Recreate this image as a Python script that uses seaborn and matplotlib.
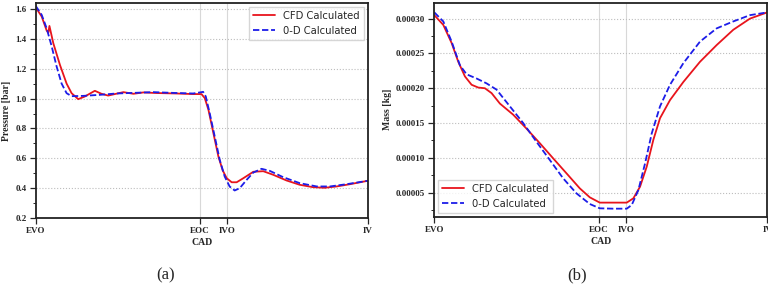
import numpy as np
import pandas as pd
import matplotlib
matplotlib.use("Agg")
import matplotlib.pyplot as plt
from matplotlib.ticker import MultipleLocator
import seaborn as sns

# crank angle positions (percent of EVO -> IV span)
tick_pos = [0, 49.5, 57.6, 100]
tick_lab = ["EVO", "EOC", "IVO", "IV"]

# pressure [bar], CFD
p_cfd_x = [0, 1.8, 3.3, 3.8, 4.13, 5.3, 7.3, 9.3, 10.8, 12.8, 14.8, 17.8, 19.8, 21.8, 23.8,
           26.4, 29.4, 32.4, 36.4, 42.4, 47.4, 49.9, 50.9, 52.0, 53.5, 55.0, 56.3, 57.5,
           59.0, 60.5, 62.5, 65.5, 68.5, 71.5, 75.5, 79.5, 83.5, 87.0, 90.6, 94.6, 100]
p_cfd_y = [1.61, 1.549, 1.455, 1.44, 1.486, 1.37, 1.225, 1.10, 1.036, 0.996, 1.014, 1.052,
           1.032, 1.02, 1.03, 1.043, 1.032, 1.041, 1.037, 1.034, 1.03, 1.03, 1.003, 0.925,
           0.768, 0.612, 0.519, 0.467, 0.44, 0.44, 0.467, 0.51, 0.514, 0.49, 0.452, 0.423,
           0.407, 0.403, 0.412, 0.427, 0.45]
# pressure [bar], 0-D
p_0d_x = [0, 1.8, 3.3, 4.8, 6.3, 7.8, 9.3, 10.8, 14.3, 19.3, 24.3, 29.4, 35.4, 41.4, 47.4,
          49.4, 50.4, 51.2, 52.4, 53.9, 55.4, 56.9, 58.4, 59.9, 61.4, 63.5, 65.5, 68.0,
          70.5, 74.5, 79.5, 84.6, 88.6, 93.6, 100]
p_0d_y = [1.62, 1.56, 1.47, 1.35, 1.214, 1.10, 1.036, 1.016, 1.018, 1.025, 1.034, 1.038,
          1.043, 1.038, 1.034, 1.041, 1.045, 1.014, 0.90, 0.746, 0.59, 0.478, 0.411, 0.385,
          0.40, 0.456, 0.505, 0.53, 0.516, 0.474, 0.434, 0.412, 0.412, 0.427, 0.45]

# mass [kg], CFD
m_cfd_x = [0, 2.7, 5.2, 7.2, 9.2, 11.2, 13.2, 15.2, 17.2, 19.7, 23.7, 27.7, 31.7, 35.7,
           39.7, 43.7, 46.7, 49.7, 53.7, 57.8, 59.8, 61.8, 63.8, 65.8, 67.8, 70.8, 74.8,
           79.8, 84.8, 89.8, 94.8, 100]
m_cfd_y = [0.000305, 0.000291, 0.000265, 0.000238, 0.000217, 0.000205, 0.000201, 0.0002,
           0.000193, 0.000178, 0.000162, 0.000142, 0.000121, 0.0000993, 0.0000778,
           0.0000562, 0.0000433, 0.0000357, 0.0000357, 0.0000357, 0.0000419, 0.0000586,
           0.0000873, 0.000126, 0.000157, 0.000183, 0.000209, 0.000238, 0.000262,
           0.000284, 0.0003, 0.000309]
# mass [kg], 0-D
m_0d_x = [0, 2.7, 5.2, 7.7, 9.7, 12.7, 15.7, 18.7, 22.7, 26.7, 30.7, 34.7, 38.7, 42.7,
          46.7, 49.7, 53.7, 57.8, 59.3, 61.3, 63.3, 65.3, 67.8, 70.8, 74.8, 79.8, 84.8,
          89.8, 94.8, 100]
m_0d_y = [0.000309, 0.000296, 0.000267, 0.000233, 0.00022, 0.000214, 0.000207, 0.000198,
          0.000174, 0.00015, 0.000123, 0.0000969, 0.0000706, 0.000049, 0.0000337,
          0.0000275, 0.000027, 0.000027, 0.0000323, 0.0000538, 0.000092, 0.000135,
          0.000174, 0.000205, 0.000236, 0.000267, 0.000286, 0.000296, 0.000305, 0.000309]

sns.set_style("white")
plt.rcParams["font.family"] = ["Liberation Serif", "DejaVu Serif"]

red = "#e8141c"
blue = "#1c1ce8"

fig = plt.figure(figsize=(7.68, 2.92), dpi=100)
ax1 = fig.add_axes([0.0465, 0.253, 0.4325, 0.737])
ax2 = fig.add_axes([0.5655, 0.257, 0.4335, 0.734])


def draw(ax, xc, yc, xd, yd):
    sns.lineplot(x=xc, y=yc, ax=ax, color=red, lw=1.3, label="CFD Calculated",
                 sort=False, estimator=None)
    sns.lineplot(x=xd, y=yd, ax=ax, color=blue, lw=1.3, label="0-D Calculated",
                 sort=False, estimator=None, linestyle=(0, (3.5, 1.5)))
    ax.set_xlim(0, 100)
    ax.set_xticks(tick_pos)
    ax.set_xticklabels(tick_lab, fontsize=6.5, fontweight="bold")
    for t in tick_pos[1:3]:
        ax.axvline(t, color="#d8d8d8", lw=0.8, zorder=0)
    ax.yaxis.grid(True, color="#bdbdbd", ls=":", lw=0.8)
    ax.set_xlabel("CAD", fontsize=7, fontweight="bold", labelpad=2)
    for s in ax.spines.values():
        s.set_linewidth(1.3)
        s.set_color("#222222")
    ax.tick_params(axis="both", which="major", direction="out", length=4.5, width=0.9,
                   bottom=True, left=True, pad=2, labelsize=6.5)
    ax.tick_params(axis="y", which="minor", direction="out", length=2.5, width=0.7,
                   left=True)
    for lab in ax.get_yticklabels():
        lab.set_fontweight("bold")


draw(ax1, p_cfd_x, p_cfd_y, p_0d_x, p_0d_y)
ax1.set_ylim(0.2, 1.64)
ax1.yaxis.set_major_locator(MultipleLocator(0.2))
ax1.yaxis.set_minor_locator(MultipleLocator(0.1))
ax1.set_yticks([0.2, 0.4, 0.6, 0.8, 1.0, 1.2, 1.4, 1.6])
ax1.set_yticklabels(["0.2", "0.4", "0.6", "0.8", "1.0", "1.2", "1.4", "1.6"],
                    fontsize=6.5, fontweight="bold")
ax1.set_ylabel("Pressure [bar]", fontsize=7, fontweight="bold", labelpad=3)
ax1.legend(loc="upper right", prop={"family": "DejaVu Sans", "size": 7.2},
           frameon=True, fancybox=False, edgecolor="#cccccc", borderaxespad=0.4,
           handlelength=2.2)

draw(ax2, m_cfd_x, m_cfd_y, m_0d_x, m_0d_y)
ax2.set_ylim(0.0000151, 0.000323)
ax2.set_yticks([0.00005, 0.0001, 0.00015, 0.0002, 0.00025, 0.0003])
ax2.yaxis.set_minor_locator(MultipleLocator(0.000025))
ax2.set_yticklabels(["0.00005", "0.00010", "0.00015", "0.00020", "0.00025", "0.00030"],
                    fontsize=6.5, fontweight="bold")
ax2.set_ylabel("Mass [kg]", fontsize=7, fontweight="bold", labelpad=3)
ax2.legend(loc="lower left", prop={"family": "DejaVu Sans", "size": 7.2},
           frameon=True, fancybox=False, edgecolor="#cccccc", borderaxespad=0.4,
           handlelength=2.2)

fig.text(0.215, 0.058, "(a)", fontsize=12, ha="center", va="center")
fig.text(0.751, 0.058, "(b)", fontsize=12, ha="center", va="center")

fig.savefig("out.png", dpi=100)
